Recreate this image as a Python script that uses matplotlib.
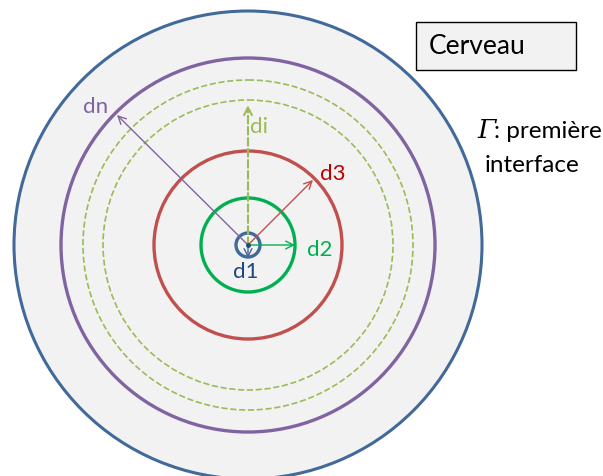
import matplotlib
matplotlib.use("Agg")
import matplotlib.pyplot as plt
from matplotlib.patches import Circle, Rectangle

# concentric interfaces (radius in px, colour, style, width)
radii = [234, 187, 165, 145, 94, 47, 12]
colors = ["#41699A", "#8064A2", "#9BBB59", "#9BBB59", "#C0504D", "#00B050", "#41699A"]
styles = ["-", "-", "--", "--", "-", "-", "-"]
widths = [2.2, 2.4, 1.2, 1.2, 2.4, 2.4, 2.4]

# distance arrows: label, end offset (dx, dy), colour, label position
arrow_labels = ["dn", "di", "d3", "d2", "d1"]
arrow_ends = [(-131, -130), (0, -140), (65, -65), (47, 0), (0, 13)]
arrow_colors = ["#8064A2", "#9BBB59", "#C0504D", "#00B050", "#41699A"]
arrow_styles = ["-", "--", "-", "-", "-"]
label_pos = [(96, 107), (259, 127), (333, 174), (320, 250), (246, 272)]
label_colors = ["#8064A2", "#9BBB59", "#C00000", "#00B050", "#1F497D"]

cx, cy = 248, 245

fig = plt.figure(figsize=(6.03, 4.76), dpi=100)
ax = fig.add_axes([0, 0, 1, 1])
ax.set_xlim(0, 603)
ax.set_ylim(476, 0)
ax.set_aspect("equal")
ax.axis("off")

ax.add_patch(Circle((cx, cy), radii[0], facecolor="#F2F2F2", edgecolor="none", zorder=1))
for r, c, s, w in zip(radii, colors, styles, widths):
    ax.add_patch(Circle((cx, cy), r, fill=False, edgecolor=c, linestyle=s, linewidth=w, zorder=2))

for (dx, dy), c, s in zip(arrow_ends, arrow_colors, arrow_styles):
    lw = 1.5 if s == "--" else 1.0
    ax.annotate("", xy=(cx + dx, cy + dy), xytext=(cx, cy),
                arrowprops=dict(arrowstyle="->", color=c, lw=lw, linestyle=s,
                                mutation_scale=14, shrinkA=0, shrinkB=0), zorder=3)
ax.plot(cx, cy, "o", color="#1F497D", ms=2.5, zorder=4)

for lab, (x, y), c in zip(arrow_labels, label_pos, label_colors):
    ax.text(x, y, lab, color=c, fontsize=16, family="Lato", ha="center", va="center", zorder=5)

ax.add_patch(Rectangle((416, 22), 160, 48, facecolor="#F2F2F2", edgecolor="black", lw=1.0, zorder=5))
ax.text(429, 46, "Cerveau", fontsize=19, family="Lato", ha="left", va="center", zorder=6)

ax.text(477, 131, "Γ", fontsize=19, family="DejaVu Serif", style="italic",
        ha="left", va="center", zorder=6)
ax.text(494, 132, ": première", fontsize=17.5, family="Lato", ha="left", va="center", zorder=6)
ax.text(532, 165, "interface", fontsize=17.5, family="Lato", ha="center", va="center", zorder=6)

fig.savefig("out.png", dpi=100)
